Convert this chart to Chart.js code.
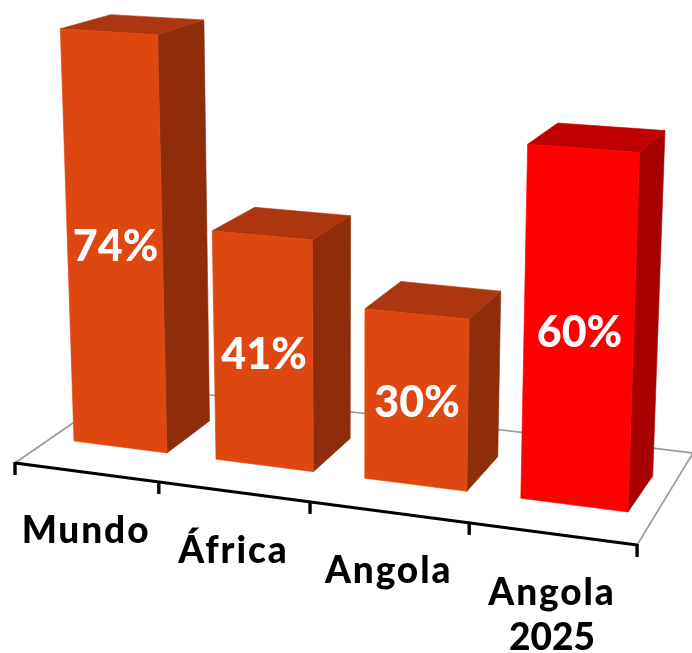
<!DOCTYPE html>
<html><head><meta charset="utf-8">
<style>html,body{margin:0;padding:0;background:#fff}canvas{display:block}</style>
<script src="https://cdn.jsdelivr.net/npm/chart.js@4"></script>
</head><body><canvas id="c" width="692" height="653"></canvas>
<script>
const categories = [["Mundo"],["África"],["Angola"],["Angola","2025"]];
const values = [74,41,30,60];
const frontColors = ["#DF4711","#DF4711","#DF4711","#FF0000"];
const sideColors = ["#8F2C0A","#8F2C0A","#8F2C0A","#A60000"];
const topColors = ["#AD360E","#AD360E","#AD360E","#C00000"];

// Screen-space targets of the 3D camera (not data)
const frontQuad = [[74,441],[628,512],[639.5,152.5],[63,109.8]];
const backQuad = [[209.5,421],[652.7,476],[665,130.5],[205,98.5]];
const FONT = 'Lato';

function solve(A,b){const n=b.length;for(let i=0;i<n;i++){let p=i;for(let r=i+1;r<n;r++)if(Math.abs(A[r][i])>Math.abs(A[p][i]))p=r;[A[i],A[p]]=[A[p],A[i]];[b[i],b[p]]=[b[p],b[i]];for(let r=i+1;r<n;r++){const f=A[r][i]/A[i][i];for(let c=i;c<n;c++)A[r][c]-=f*A[i][c];b[r]-=f*b[i];}}const x=Array(n).fill(0);for(let i=n-1;i>=0;i--){let s=b[i];for(let c=i+1;c<n;c++)s-=A[i][c]*x[c];x[i]=s/A[i][i];}return x;}
function homography(src,dst){const A=[],b=[];for(let i=0;i<4;i++){const [x,y]=src[i],[u,v]=dst[i];A.push([x,y,1,0,0,0,-u*x,-u*y]);b.push(u);A.push([0,0,0,x,y,1,-v*x,-v*y]);b.push(v);}const h=solve(A,b);return (x,y)=>{const w=h[6]*x+h[7]*y+1;return [(h[0]*x+h[1]*y+h[2])/w,(h[3]*x+h[4]*y+h[5])/w];};}
function poly(ctx,pts,color){ctx.beginPath();pts.forEach((p,i)=>i?ctx.lineTo(p[0],p[1]):ctx.moveTo(p[0],p[1]));ctx.closePath();ctx.fillStyle=color;ctx.fill();ctx.strokeStyle=color;ctx.lineWidth=0.6;ctx.stroke();}
function line(ctx,a,b,color,w){ctx.beginPath();ctx.moveTo(a[0],a[1]);ctx.lineTo(b[0],b[1]);ctx.strokeStyle=color;ctx.lineWidth=w;ctx.stroke();}

const bars3d = {
  id:'bars3d',
  beforeDatasetDraw(chart,args){
    const ctx=chart.ctx, xs=chart.scales.x, ys=chart.scales.y, els=args.meta.data;
    const y0=ys.getPixelForValue(0);
    const L=els[0].x-els[0].width/2, R0=els[0].x+els[0].width/2, R=els[3].x+els[3].width/2;
    const ytop3=ys.getPixelForValue(values[3]);
    const F=homography([[L,y0],[R,y0],[R,ytop3],[L,ytop3]],frontQuad);
    const B=homography([[R0,y0],[R,y0],[R,ytop3],[R0,ytop3]],backQuad);
    // floor edge along the category axis, projective in x
    const W=xs.right-xs.left;
    const edge=x=>{const t=(x-xs.left)/W,c=-0.0979,sx=(559.7*t+15)/(c*t+1);return [sx,463+(sx-15)*0.1318];};
    const gray='#9A9A9A';
    line(ctx,edge(xs.left),[128,385],gray,1.6);
    line(ctx,[128,385],[693,453],gray,1.6);
    line(ctx,edge(xs.right),[693,453],gray,1.6);
    line(ctx,edge(xs.left),edge(xs.right),'#000',3);
    for(let i=0;i<=categories.length;i++){
      const p=edge(xs.left+W*i/categories.length);
      line(ctx,[p[0],p[1]-1],[p[0],p[1]+12],'#000',3.4);
    }
    els.forEach((el,i)=>{
      const l=el.x-el.width/2,r=el.x+el.width/2,t=el.y,b=el.base;
      const fl=F(l,b),fr=F(r,b),tl=F(l,t),tr=F(r,t),bl=B(l,t),br=B(r,t),bb=B(r,b);
      poly(ctx,[fr,tr,br,bb],sideColors[i]);
      poly(ctx,[tl,tr,br,bl],topColors[i]);
      poly(ctx,[fl,fr,tr,tl],el.options.backgroundColor);
    });
    // value labels
    ctx.textAlign='center';ctx.textBaseline='alphabetic';ctx.fillStyle='#fff';
    ctx.font='900 43px '+FONT;
    els.forEach((el,i)=>{
      const p=F(el.x,(el.y+el.base)/2);
      ctx.fillText(values[i]+'%',p[0]+1,p[1]+17);
    });
    // category labels
    ctx.fillStyle='#000';ctx.font='900 37px '+FONT;
    els.forEach((el,i)=>{
      const p=edge(el.x);
      categories[i].forEach((s,k)=>{
        ctx.letterSpacing=/\d/.test(s)?'0px':'1.9px';
        ctx.fillText(s,p[0],p[1]+71+k*45);
      });
    });
    ctx.letterSpacing='0px';
    return false;
  }
};

new Chart(document.getElementById('c'),{
  type:'bar',
  data:{labels:categories,datasets:[{data:values,backgroundColor:frontColors,borderWidth:0,barPercentage:0.66,categoryPercentage:1}]},
  options:{responsive:false,animation:false,
    layout:{padding:0},
    plugins:{legend:{display:false},tooltip:{enabled:false}},
    scales:{x:{display:false},y:{display:false,min:0,max:100}}},
  plugins:[bars3d]
});
</script></body></html>
